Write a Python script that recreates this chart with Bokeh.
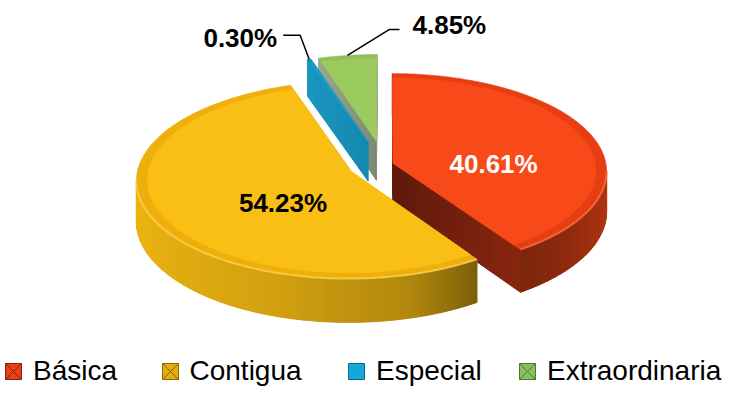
import numpy as np
from bokeh.plotting import figure
from bokeh.models import Range1d, Legend, LegendItem
from bokeh.core.properties import value
from bokeh.embed import file_html
from bokeh.resources import INLINE

# ---------------- data ----------------
categories = ["Básica", "Contigua", "Especial", "Extraordinaria"]
shares = [40.61, 54.23, 0.30, 4.85]
pct_labels = ["40.61%", "54.23%", "0.30%", "4.85%"]

# ---------------- style ----------------
top_col = ["#F84A18", "#F9BF14", "#1B9DC6", "#9BCB5F"]
rim_col = ["#E63E12", "#EEAE0C", "#1790B8", "#8EC055"]
hil_col = ["#FF7A50", "#FFD860", "#50C0E0", "#C0E090"]
side_col = ["#F84A18", "#F6BC12", "#1B9DC6", "#9BCB5F"]
cut_col = [("#5E180A", "#88260F"), ("#B08500", "#C89A08"),
           ("#1389B0", "#1A96C0"), ("#7E8B74", "#9AA78E")]
lab_col = ["white", "black", "black", "black"]
explode = [0.043, 0.17, 0.25, 0.25]
label_r = {0: 0.50, 1: 0.35}
LABEL_Z = 0.62
leader = {2: [(-9, -24), (-26, -24)], 3: [(42, -26), (52, -26)]}
leader_text = {2: (-6, 3, "right"), 3: (13, -4, "left")}
draw_order = [3, 2, 0, 1]
CX, CY, A, B, K, T = 391.8, 172.0, 213.0, 97.0, 0.08, 40.0
ANG = [0, 60, 100, 146, 165, 200, 250, 300, 360]
BRI = [0.80, 0.80, 0.72, 0.50, 0.72, 0.86, 0.95, 0.95, 0.80]
leg_icon_x = [21, 177.5, 364, 535]       # page px centres of the legend icons
LEG_Y = -4
leg_markers = ["square_x", "square_x", "square", "square_x"]
leg_fill = ["#E8401A", "#E0AC10", "#12A8D8", "#88C060"]
leg_line = ["#8A2008", "#8A6A00", "#0A6A90", "#4A7A30"]


def hx(c):
    c = c.lstrip("#")
    return np.array([int(c[k:k + 2], 16) for k in (0, 2, 4)], float)


def tohex(a):
    a = np.clip(np.round(a), 0, 255).astype(int)
    return "#%02x%02x%02x" % tuple(a)


def shade(c, f):
    return tohex(hx(c) * f)


def mix(c1, c2, t):
    return tohex(hx(c1) * (1 - t) + hx(c2) * t)


def proj(u, v, z):
    u = np.asarray(u, float)
    v = np.asarray(v, float)
    z = np.asarray(z, float)
    s = 1.0 / (1.0 + K * v)
    return CX + A * u * s, CY - B * v * s + T * (1.0 - z) * s


def area(x, y):
    return float(np.sum(x * np.roll(y, -1) - np.roll(x, -1) * y))


def bright(theta):
    return float(np.interp(np.degrees(theta) % 360, ANG, BRI))


p = figure(width=726, height=387, x_range=Range1d(8, 734), y_range=Range1d(395, 8),
           output_backend="svg", toolbar_location=None, min_border=0)
p.axis.visible = False
p.grid.visible = False
p.outline_line_color = None
p.background_fill_color = "white"

vals = np.array(shares, float)
edges = np.concatenate([[0.0], np.cumsum(vals / vals.sum())]) * 2 * np.pi

geo = {}
for i in draw_order:
    t0, t1 = edges[i], edges[i + 1]
    tm = 0.5 * (t0 + t1)
    du, dv = explode[i] * np.sin(tm), explode[i] * np.cos(tm)
    geo[i] = (tm, du, dv)
    n = max(3, int(np.degrees(t1 - t0)) + 2)
    th = np.linspace(t0, t1, n)
    ru, rv = du + np.sin(th), dv + np.cos(th)
    xs, ys, cs = [], [], []
    hlx, hly = [], []
    # outer curved face
    for j in range(n - 1):
        qu = [ru[j], ru[j + 1], ru[j + 1], ru[j]]
        qv = [rv[j], rv[j + 1], rv[j + 1], rv[j]]
        qx, qy = proj(qu, qv, [1, 1, 0, 0])
        if area(qx, qy) < 0:
            xs.append(list(qx))
            ys.append(list(qy))
            cs.append(shade(side_col[i], bright(0.5 * (th[j] + th[j + 1]))))
            hlx.append([qx[0], qx[1]])
            hly.append([qy[0], qy[1]])
    # cut faces
    m = 14
    f = np.linspace(0, 1, m + 1)
    for ta, start in ((t0, True), (t1, False)):
        cu = du + f * np.sin(ta)
        cv = dv + f * np.cos(ta)
        if start:
            fu, fv = [cu[0], cu[-1], cu[-1], cu[0]], [cv[0], cv[-1], cv[-1], cv[0]]
        else:
            fu, fv = [cu[-1], cu[0], cu[0], cu[-1]], [cv[-1], cv[0], cv[0], cv[-1]]
        fx, fy = proj(fu, fv, [1, 1, 0, 0])
        if area(fx, fy) < 0:
            for k in range(m):
                qu = [cu[k], cu[k + 1], cu[k + 1], cu[k]]
                qv = [cv[k], cv[k + 1], cv[k + 1], cv[k]]
                qx, qy = proj(qu, qv, [1, 1, 0, 0])
                xs.append(list(qx))
                ys.append(list(qy))
                cs.append(mix(cut_col[i][0], cut_col[i][1], (f[k] + f[k + 1]) / 2))
    if xs:
        p.patches(xs=xs, ys=ys, fill_color=cs, line_color=cs, line_width=1)
    # top face with bevel rim
    tx, ty = proj(np.concatenate([[du], ru]), np.concatenate([[dv], rv]), 1)
    p.patch(list(tx), list(ty), fill_color=rim_col[i], line_color=rim_col[i], line_width=0.6)
    ri = 0.95
    ix, iy = proj(np.concatenate([[du], du + ri * np.sin(th)]),
                  np.concatenate([[dv], dv + ri * np.cos(th)]), 1)
    p.patch(list(ix), list(iy), fill_color=top_col[i], line_color=top_col[i], line_width=0.6)
    if hlx:
        p.multi_line(hlx, hly, line_color=hil_col[i], line_width=2, line_alpha=0.7)

# labels inside (alphabetic baseline)
for i, r in label_r.items():
    tm, du, dv = geo[i]
    lx, ly = proj(du + r * np.sin(tm), dv + r * np.cos(tm), LABEL_Z)
    p.text(x=[float(lx)], y=[float(ly)], text=[pct_labels[i]], text_color=lab_col[i],
           text_align="center", text_baseline="alphabetic", text_font=value("Liberation Sans"),
           text_font_style="bold", text_font_size="26px")

# labels outside with leader lines
for i, pts in leader.items():
    tm, du, dv = geo[i]
    rx, ry = proj(du + np.sin(tm), dv + np.cos(tm), 1)
    rx, ry = float(rx), float(ry)
    lxs = [rx] + [rx + d[0] for d in pts]
    lys = [ry] + [ry + d[1] for d in pts]
    p.line(lxs, lys, line_color="black", line_width=1.5)
    ox, oy, al = leader_text[i]
    p.text(x=[lxs[-1] + ox], y=[lys[-1] + oy], text=[pct_labels[i]], text_color="black",
           text_align=al, text_baseline="alphabetic", text_font=value("Liberation Sans"),
           text_font_style="bold", text_font_size="26px")

# legend: one Legend per entry so each sits where the reference has it
GLY = 40
for i, cat in enumerate(categories):
    r = p.scatter(x=[np.nan], y=[np.nan], marker=leg_markers[i], size=16,
                  fill_color=leg_fill[i], line_color=leg_line[i], line_width=1)
    lg = Legend(items=[LegendItem(label=cat, renderers=[r])], orientation="horizontal",
                location=(leg_icon_x[i] - 8 - GLY / 2, LEG_Y),
                glyph_width=GLY, glyph_height=GLY, label_standoff=-7, spacing=0,
                padding=0, margin=0, border_line_color=None, background_fill_alpha=0,
                label_text_font="Liberation Sans", label_text_font_size="28px",
                label_text_color="black")
    p.add_layout(lg)

open("out.html", "w").write(file_html(p, INLINE))
